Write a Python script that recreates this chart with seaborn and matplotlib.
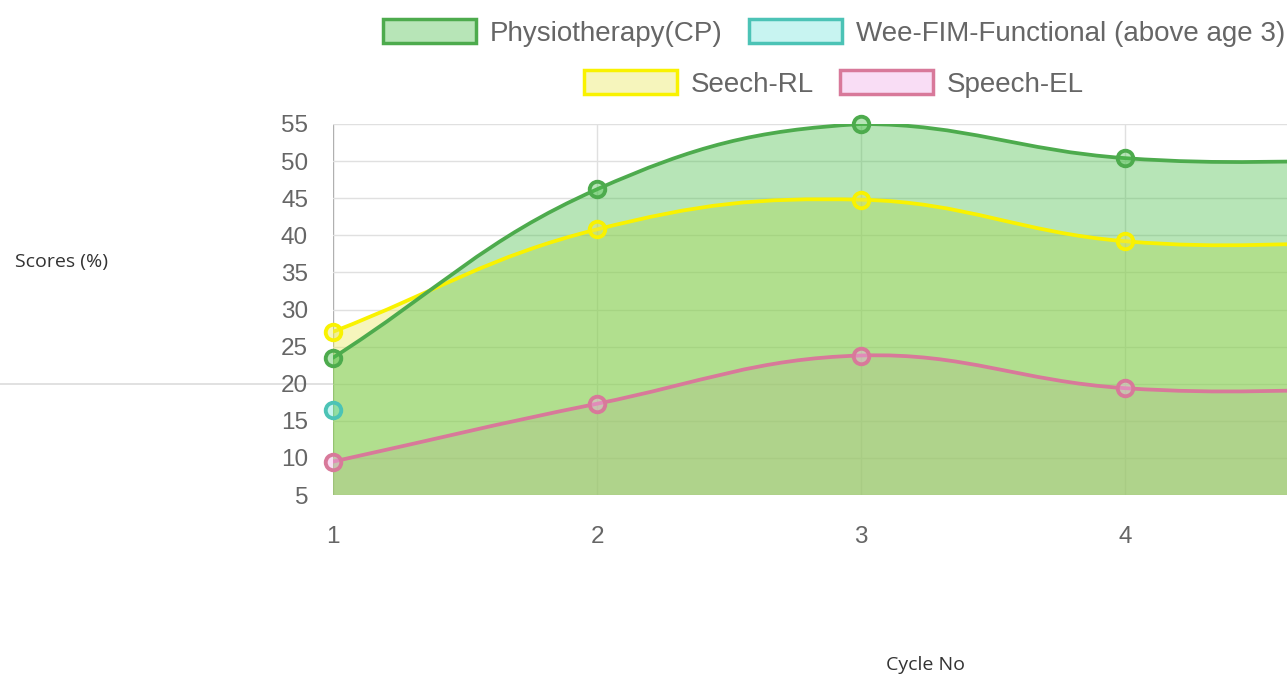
import numpy as np
import pandas as pd
import matplotlib
matplotlib.use("Agg")
import matplotlib.pyplot as plt
import matplotlib.transforms as mtransforms
import seaborn as sns
from matplotlib.path import Path
from matplotlib.patches import PathPatch, Patch
from matplotlib.lines import Line2D

# ---------------- data ----------------
cycles = [1, 2, 3, 4, 5]
physio = [23.5, 46.2, 55.0, 50.4, 50.0]
weefim = [16.5, np.nan, np.nan, np.nan, np.nan]
speech_rl = [27.0, 40.8, 44.8, 39.2, 39.0]
speech_el = [9.5, 17.3, 23.8, 19.4, 19.2]
series_labels = ["Physiotherapy(CP)", "Wee-FIM-Functional (above age 3)",
                 "Seech-RL", "Speech-EL"]
y_ticks = [5, 10, 15, 20, 25, 30, 35, 40, 45, 50, 55]
x_ticks = [1, 2, 3, 4]
y_label = "Scores (%)"
x_label = "Cycle No"

# ---------------- style ----------------
line_colors = ["#4dab4d", "#4cc3b6", "#f9f200", "#d8799a"]
fill_colors = [(75/255, 192/255, 75/255, 0.4),
               (75/255, 220/255, 210/255, 0.3),
               (234/255, 231/255, 88/255, 0.4),
               (240/255, 170/255, 232/255, 0.4)]
all_series = [physio, weefim, speech_rl, speech_el]

sns.set_theme(style="white")
plt.rcParams["font.family"] = ["Liberation Sans", "DejaVu Sans"]
plt.rcParams["grid.alpha"] = 1.0

W, H = 1287, 678
fig = plt.figure(figsize=(W / 100, H / 100), dpi=100)
left_px, right_px, top_px, bottom_px = 333, 1389, 124, 495
ax = fig.add_axes([left_px / W, 1 - bottom_px / H,
                   (right_px - left_px) / W, (bottom_px - top_px) / H])
xlo, xhi, ylo, yhi = 1, 5, 5, 55
ax.set_xlim(xlo, xhi)
ax.set_ylim(ylo, yhi)
sx = (right_px - left_px) / (xhi - xlo)
sy = (bottom_px - top_px) / (yhi - ylo)

for s in ax.spines.values():
    s.set_visible(False)

grid_c = "#e0e0e0"
zero_c = "#b0b0b0"
ax.set_yticks(y_ticks)
ax.set_xticks(x_ticks)
ax.grid(True, color=grid_c, linewidth=1.0, zorder=0)
ax.set_axisbelow(True)
ax.tick_params(axis="y", length=16, width=1.0, color=grid_c, pad=2,
               labelsize=17.5, labelcolor="#666666")
ax.tick_params(axis="x", length=18, width=1.0, color=grid_c, pad=4,
               labelsize=17.5, labelcolor="#666666")
# darker first x gridline (zero line)
ax.xaxis.get_gridlines()[0].set_color(zero_c)
ax.xaxis.get_ticklines()[0].set_color(zero_c)


def spline(xs, ys, t=0.4):
    pts = [(x, y) for x, y in zip(xs, ys) if not np.isnan(y)]
    n = len(pts)
    cps = []
    for i in range(n):
        cur = pts[i]
        prev = pts[i - 1] if i > 0 else cur
        nxt = pts[i + 1] if i < n - 1 else cur
        d01 = np.hypot((cur[0] - prev[0]) * sx, (cur[1] - prev[1]) * sy)
        d12 = np.hypot((nxt[0] - cur[0]) * sx, (nxt[1] - cur[1]) * sy)
        tot = d01 + d12
        s01 = d01 / tot if tot else 0
        s12 = d12 / tot if tot else 0
        fa, fb = t * s01, t * s12
        dx, dy = nxt[0] - prev[0], nxt[1] - prev[1]
        cp = (np.clip(cur[0] - fa * dx, xlo, xhi), np.clip(cur[1] - fa * dy, ylo, yhi))
        cn = (np.clip(cur[0] + fb * dx, xlo, xhi), np.clip(cur[1] + fb * dy, ylo, yhi))
        cps.append((cp, cn))
    verts = [pts[0]]
    codes = [Path.MOVETO]
    for i in range(1, n):
        verts += [cps[i - 1][1], cps[i][0], pts[i]]
        codes += [Path.CURVE4] * 3
    return pts, verts, codes


# fills (drawn last dataset first)
order = [3, 2, 1, 0]
for k, i in enumerate(order):
    pts, verts, codes = spline(cycles, all_series[i])
    if len(pts) < 2:
        continue
    fv = verts + [(pts[-1][0], ylo), (pts[0][0], ylo), pts[0]]
    fc = codes + [Path.LINETO, Path.LINETO, Path.CLOSEPOLY]
    ax.add_patch(PathPatch(Path(fv, fc), facecolor=fill_colors[i],
                           edgecolor="none", zorder=1 + k * 0.1))

# lines and points
for k, i in enumerate(order):
    pts, verts, codes = spline(cycles, all_series[i])
    z = 3 + k
    if len(pts) >= 2:
        ax.add_patch(PathPatch(Path(verts, codes), facecolor="none",
                               edgecolor=line_colors[i], linewidth=2.7,
                               zorder=z, capstyle="round", joinstyle="round"))
    df = pd.DataFrame({"x": cycles, "y": all_series[i]}).dropna()
    sns.scatterplot(data=df, x="x", y="y", ax=ax, s=125, marker="o",
                    color=fill_colors[i], edgecolor=line_colors[i],
                    linewidth=2.8, zorder=z + 0.5, clip_on=False, legend=False)

ax.set_xlabel("")
ax.set_ylabel("")

# left horizontal line at level 20
blend = mtransforms.blended_transform_factory(fig.transFigure, ax.transData)
fig.add_artist(Line2D([0, left_px / W], [20, 20], transform=blend,
                      color="#dcdcdc", linewidth=1.2, zorder=0))

# axis titles (html-style labels)
fig.text(15 / W, 1 - 262 / H, y_label, fontsize=14, color="#333333",
         family=["Open Sans", "DejaVu Sans"], ha="left", va="center")
fig.text(925 / W, 1 - 665 / H, x_label, fontsize=14, color="#333333",
         family=["Open Sans", "DejaVu Sans"], ha="center", va="center")

# legend: two centered rows
handles = [Patch(facecolor=fill_colors[i], edgecolor=line_colors[i], linewidth=2.5)
           for i in range(4)]
leg_kw = dict(frameon=False, ncol=2, fontsize=20, handlelength=3.35,
              handleheight=0.95, handletextpad=0.5, columnspacing=0.95,
              labelcolor="#666666", borderpad=0, borderaxespad=0)
leg1 = fig.legend(handles[:2], series_labels[:2], loc="center",
                  bbox_to_anchor=(834 / W, 1 - 33 / H), **leg_kw)
leg2 = fig.legend(handles[2:], series_labels[2:], loc="center",
                  bbox_to_anchor=(834 / W, 1 - 84 / H), **leg_kw)

fig.savefig("out.png", dpi=100)
